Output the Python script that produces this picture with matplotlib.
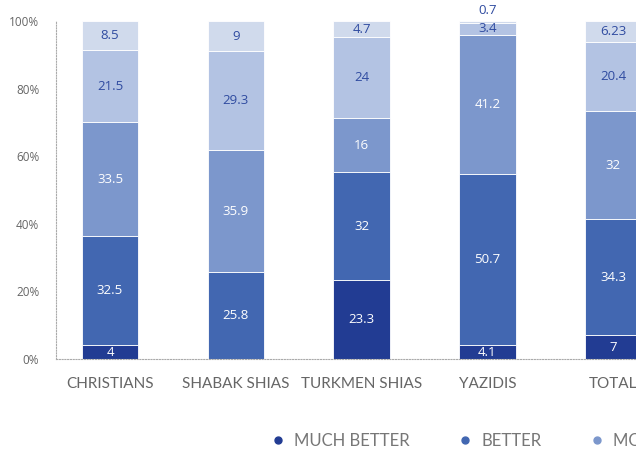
import numpy as np
from matplotlib import pyplot as plt

groups = ['CHRISTIANS', 'SHABAK SHIAS', 'TURKMEN SHIAS', 'YAZIDIS', 'TOTAL']
series = ['MUCH BETTER', 'BETTER', 'MORE OR LESS THE SAME', 'WORSE', 'MUCH WORSE']
much_better = [4, 0, 23.3, 4.1, 7]
better = [32.5, 25.8, 32, 50.7, 34.3]
same = [33.5, 35.9, 16, 41.2, 32]
worse = [21.5, 29.3, 24, 3.4, 20.4]
much_worse = [8.5, 9, 4.7, 0.7, 6.23]
labels_str = [
    ['4', '', '23.3', '4.1', '7'],
    ['32.5', '25.8', '32', '50.7', '34.3'],
    ['33.5', '35.9', '16', '41.2', '32'],
    ['21.5', '29.3', '24', '3.4', '20.4'],
    ['8.5', '9', '4.7', '0.7', '6.23'],
]
yticks = [0, 20, 40, 60, 80, 100]

colors = ['#223c93', '#4267b1', '#7c97cc', '#b3c3e3', '#d0daec']
text_colors = ['white', 'white', 'white', '#2f4ba0', '#2f4ba0']


def main():
    fig = plt.figure(figsize=(6.36, 4.53), dpi=100)
    # axes runs past the right edge so the last bar and legend get cut off
    ax = fig.add_axes([0.088, 0.2075, 0.961, 0.746])

    data = [much_better, better, same, worse, much_worse]
    x = np.arange(len(groups))
    bottom = np.zeros(len(groups))
    for i, vals in enumerate(data):
        vals = np.array(vals, dtype=float)
        ax.bar(x, vals, 0.45, bottom=bottom, color=colors[i],
               edgecolor='white', linewidth=0.6, label=series[i], zorder=2)
        for j in range(len(groups)):
            txt = labels_str[i][j]
            if not txt:
                continue
            if vals[j] < 2:
                # too thin to hold its label, put it above the bar
                y = bottom[j] + vals[j] + 1.0
                va = 'bottom'
            else:
                y = bottom[j] + vals[j] / 2
                va = 'center'
            ax.text(x[j], y, txt, ha='center', va=va, color=text_colors[i],
                    fontsize=9.5, family='Open Sans', zorder=3, clip_on=False)
        bottom += vals

    ax.set_xlim(-0.43, 4.43)
    ax.set_ylim(0, 100)
    ax.set_yticks(yticks)
    ax.set_yticklabels(['%d%%' % t for t in yticks], family='Open Sans',
                       fontsize=8.5, color='#666666')
    ax.set_xticks(x)
    ax.set_xticklabels(groups, family='Lato', fontsize=11, color='#666666')
    ax.tick_params(axis='both', length=0)
    ax.tick_params(axis='x', pad=13)
    ax.tick_params(axis='y', pad=12)

    for s in ['top', 'right']:
        ax.spines[s].set_visible(False)
    for s in ['left', 'bottom']:
        ax.spines[s].set_linestyle((0, (1, 1.5)))
        ax.spines[s].set_color('#aaaaaa')
        ax.spines[s].set_linewidth(0.8)

    # round markers for the legend
    handles = [plt.Line2D([], [], marker='o', linestyle='', markersize=5,
                          color=c) for c in colors]
    fig.legend(handles, series, loc='center left',
               bbox_to_anchor=(0.405, 0.026), ncol=5, frameon=False,
               handlelength=0.6, handletextpad=0.7, columnspacing=3.0,
               labelcolor='#777777', prop={'family': 'Lato', 'size': 12})

    fig.savefig('out.png', dpi=100)


if __name__ == '__main__':
    main()
